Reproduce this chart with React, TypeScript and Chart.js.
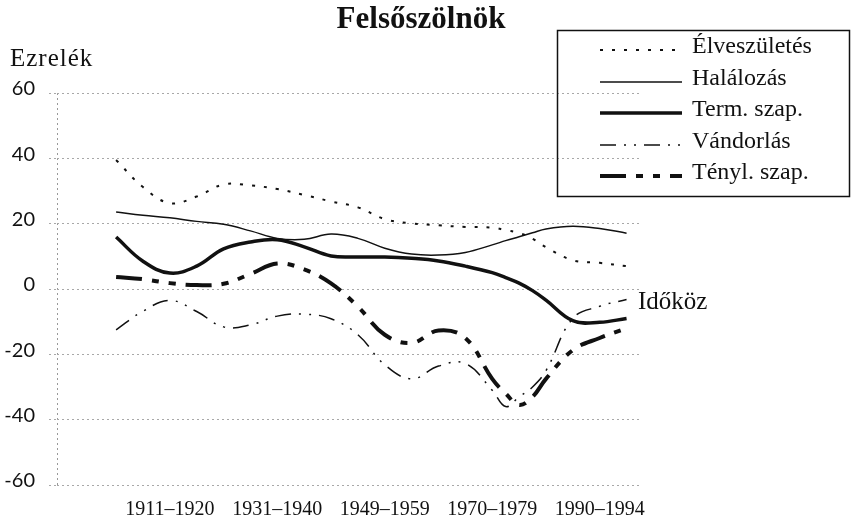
import React, { useEffect, useRef } from 'react';
import { Chart, registerables } from 'chart.js';

Chart.register(...registerables);

// ---- data ----
const TITLE = 'Felsőszölnök';
const Y_TITLE = 'Ezrelék';
const X_TITLE = 'Időköz';

// x position of each reading, in "half-period" steps along the time axis
const xPositions = [0, 0.5, 1, 1.5, 2, 2.5, 3, 3.5, 4, 4.5, 5, 5.5, 6, 6.5, 7, 7.25, 7.5, 7.75, 8, 8.5, 9, 9.5];

const periodLabels = ['1911–1920', '1931–1940', '1949–1959', '1970–1979', '1990–1994'];
const periodLabelPositions = [1, 3, 5, 7, 9];

const yTicks = [60, 40, 20, 0, -20, -40, -60];

const elveszuletes = [39.5, 31.2, 26.3, 28.3, 32, 31.7, 30.6, 28.8, 26.8, 25, 21.4, 20.1, 19.5, 19, 18.8, 18, 17.2, 15.4, 12.8, 8.8, 8, 7];
const halalozas = [23.6, 22.6, 21.8, 20.7, 19.8, 17.8, 15.5, 15.2, 16.8, 15.5, 12.5, 10.7, 10.4, 11.2, 13.5, 14.8, 16, 17.2, 18.4, 19.2, 18.5, 17.1];
const termSzap = [15.9, 8.5, 4.9, 7, 12.3, 14.4, 15.1, 12.9, 10.1, 9.8, 9.8, 9.4, 8.6, 7, 5, 3.5, 1.8, -0.5, -3.4, -9.7, -10.2, -9];
const vandorlas = [-12.5, -6.8, -3.5, -6.9, -11.6, -11, -8.3, -7.7, -9.1, -14, -23.2, -27.5, -23.6, -22.8, -31, -36, -33, -30, -25, -9, -5.3, -3.2];
const tenylSzap = [3.7, 3, 1.8, 1.2, 1.6, 4.6, 7.8, 6, 1.7, -5.4, -14, -16.5, -12.7, -15, -27.5, -32, -35.5, -33, -27.5, -18.7, -15, -12];

const seriesNames = ['Élveszületés', 'Halálozás', 'Term. szap.', 'Vándorlás', 'Tényl. szap.'];

const X_MIN = -1.1;
const X_MAX = 9.75;

const SERIF = '"Liberation Serif", "Times New Roman", serif';
const SANS = 'Lato, "Open Sans", sans-serif';

const toPoints = (vals: number[]) => vals.map((v, i) => ({ x: xPositions[i], y: v }));

const overlayPlugin = {
  id: 'overlayText',
  afterDraw(chart: any) {
    const ctx = chart.ctx as CanvasRenderingContext2D;
    const area = chart.chartArea;
    const yScale = chart.scales.y;
    ctx.save();
    ctx.fillStyle = '#111';
    ctx.textBaseline = 'alphabetic';

    // title
    ctx.font = `bold 31px ${SERIF}`;
    ctx.textAlign = 'center';
    ctx.fillText(TITLE, 421, 28);

    // y axis title
    ctx.font = `25px ${SERIF}`;
    ctx.textAlign = 'left';
    (ctx as any).letterSpacing = '1px';
    ctx.fillText(Y_TITLE, 10, 66);
    (ctx as any).letterSpacing = '0px';

    // x axis title at right, near zero line
    ctx.font = `25px ${SERIF}`;
    ctx.fillText(X_TITLE, area.right - 2, yScale.getPixelForValue(0) + 20);

    // legend box
    ctx.lineWidth = 1.5;
    ctx.strokeStyle = '#111';
    ctx.strokeRect(557.5, 30.5, 292, 166);

    const datasets = chart.data.datasets;
    datasets.forEach((ds: any, i: number) => {
      const base = Math.round(53 + i * 31.5);
      const ly = base - 3;
      ctx.save();
      ctx.strokeStyle = '#111';
      ctx.lineWidth = ds.borderWidth;
      ctx.setLineDash(ds.borderDash || []);
      ctx.lineCap = 'butt';
      ctx.beginPath();
      ctx.moveTo(600, ly);
      ctx.lineTo(682, ly);
      ctx.stroke();
      ctx.restore();
      ctx.font = `24px ${SERIF}`;
      ctx.textAlign = 'left';
      ctx.fillText(ds.label, 692, base);
    });
    ctx.restore();
  },
};

export default function App() {
  const ref = useRef<HTMLCanvasElement | null>(null);

  useEffect(() => {
    if (!ref.current) return;
    const styles = [
      { borderWidth: 2, borderDash: [3, 9] },
      { borderWidth: 1.5, borderDash: [] },
      { borderWidth: 3.5, borderDash: [] },
      { borderWidth: 1.5, borderDash: [16, 8, 2, 8, 2, 8] },
      { borderWidth: 4, borderDash: [26, 10, 7, 10, 7, 10] },
    ];
    const values = [elveszuletes, halalozas, termSzap, vandorlas, tenylSzap];
    const chart = new Chart(ref.current, {
      type: 'line',
      data: {
        datasets: values.map((vals, i) => ({
          label: seriesNames[i],
          data: toPoints(vals),
          borderColor: '#111',
          backgroundColor: '#111',
          borderWidth: styles[i].borderWidth,
          borderDash: styles[i].borderDash,
          pointRadius: 0,
          tension: 0.4,
          fill: false,
        })),
      },
      options: {
        animation: false,
        responsive: false,
        devicePixelRatio: 1,
        layout: { padding: { top: 93, right: 211, bottom: 0, left: 0 } },
        plugins: {
          legend: { display: false },
          title: { display: false },
          tooltip: { enabled: false },
        },
        scales: {
          x: {
            type: 'linear',
            min: X_MIN,
            max: X_MAX,
            afterBuildTicks: (scale: any) => {
              scale.ticks = [{ value: X_MIN }, ...periodLabelPositions.map((v) => ({ value: v }))];
            },
            afterFit: (scale: any) => {
              scale.height = 42;
            },
            ticks: {
              autoSkip: false,
              maxRotation: 0,
              padding: 13,
              color: '#111',
              font: { family: SERIF, size: 20 },
              callback: (v: any) => {
                const idx = periodLabelPositions.indexOf(Number(v));
                return idx >= 0 ? periodLabels[idx] : '';
              },
            },
            grid: {
              drawTicks: false,
              lineWidth: 1,
              color: (c: any) => (c.tick && c.tick.value === X_MIN ? '#999999' : 'rgba(0,0,0,0)'),
            },
            border: { display: false, dash: [2, 3] },
          },
          y: {
            type: 'linear',
            min: -60,
            max: 60,
            afterBuildTicks: (scale: any) => {
              scale.ticks = yTicks.map((v) => ({ value: v }));
            },
            afterFit: (scale: any) => {
              scale.width = 57;
            },
            ticks: {
              padding: 14,
              labelOffset: -4,
              color: '#111',
              font: { family: SANS, size: 20 },
            },
            grid: {
              drawTicks: true,
              tickLength: 8,
              lineWidth: 1,
              color: '#a8a8a8',
              tickColor: '#a8a8a8',
              tickBorderDash: [2, 3],
            },
            border: { display: false, dash: [2, 3] },
          },
        },
      },
      plugins: [overlayPlugin],
    });
    return () => chart.destroy();
  }, []);

  return (
    <div style={{ position: 'absolute', left: 0, top: 0, width: 851, height: 527, background: '#fff' }}>
      <canvas ref={ref} width={851} height={527} style={{ display: 'block' }} />
    </div>
  );
}
